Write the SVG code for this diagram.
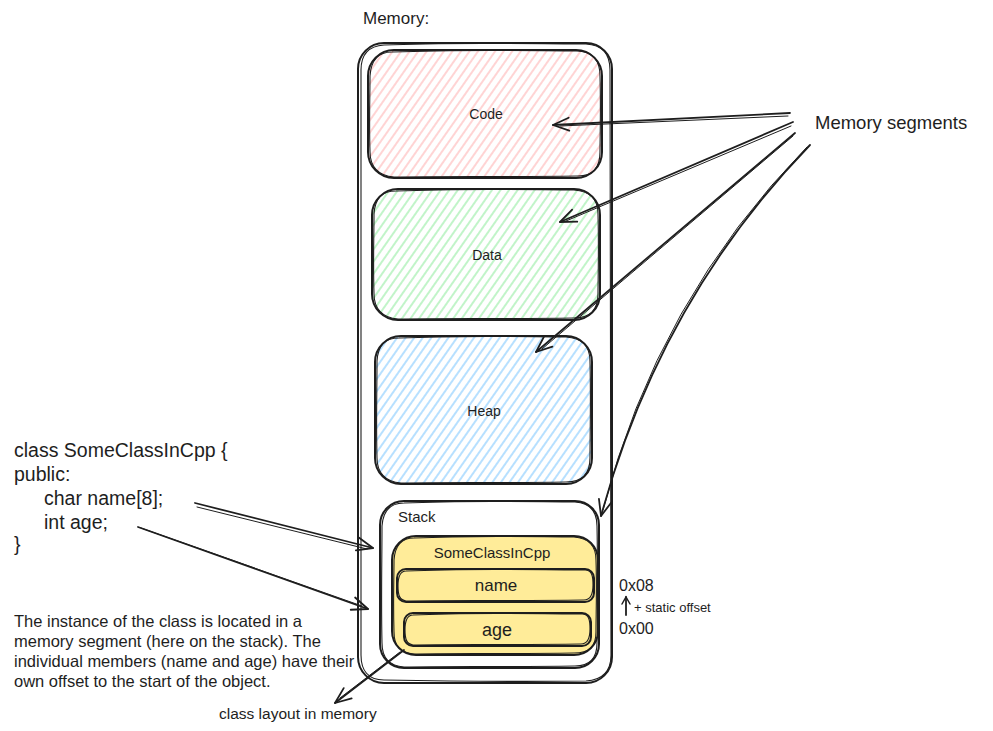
<svg xmlns="http://www.w3.org/2000/svg" width="993" height="731" viewBox="0 0 993 731">
<style>
.t{font-family:"Liberation Sans","DejaVu Sans",sans-serif;fill:#1e1e1e}
.box{stroke:#1e1e1e;stroke-width:2;stroke-linejoin:round}
.sk{fill:none;stroke:#1e1e1e;stroke-width:1.1}
.conn{fill:none;stroke:#1e1e1e;stroke-width:1.8;stroke-linecap:round}
.conn2{fill:none;stroke:#1e1e1e;stroke-width:1;stroke-linecap:round}
</style>
<defs>
<pattern id="hRed" width="7" height="7" patternUnits="userSpaceOnUse" patternTransform="rotate(35)"><line x1="1" y1="0" x2="1" y2="7" stroke="#ffc9c9" stroke-width="1.6"/></pattern>
<pattern id="hGreen" width="7" height="7" patternUnits="userSpaceOnUse" patternTransform="rotate(35)"><line x1="1" y1="0" x2="1" y2="7" stroke="#b2f2bb" stroke-width="1.6"/></pattern>
<pattern id="hBlue" width="7" height="7" patternUnits="userSpaceOnUse" patternTransform="rotate(35)"><line x1="1" y1="0" x2="1" y2="7" stroke="#a5d8ff" stroke-width="1.6"/></pattern>
<marker id="ah" viewBox="-18 -9 20 18" refX="0" refY="0" markerWidth="20" markerHeight="18" markerUnits="userSpaceOnUse" orient="auto">
<path d="M-16,-6.5 L0,0 L-16,6.5" fill="none" stroke="#1e1e1e" stroke-width="1.8" stroke-linecap="round" stroke-linejoin="round"/>
</marker>
<marker id="ahs" viewBox="-10 -6 12 12" refX="0" refY="0" markerWidth="12" markerHeight="12" markerUnits="userSpaceOnUse" orient="auto">
<path d="M-7,-4 L0,0 L-7,4" fill="none" stroke="#1e1e1e" stroke-width="1.5" stroke-linecap="round"/>
</marker>
</defs>
<rect width="993" height="731" fill="#ffffff"/>

<g id="memory-label"><text class="t" x="363" y="24" font-size="17">Memory:</text></g>

<g id="memory">
<rect class="box" x="358" y="43" width="254" height="640" rx="26" fill="none"/>
<path class="sk" d="M384,45 C450,42 540,44 586,44 C603,45 610,55 610,70 C611,250 610,480 611,655 C611,672 602,680 586,681 C500,682 440,681 384,680 C368,680 361,670 361,655 C360,450 361,250 361,70 C361,55 368,46 384,45"/>
</g>

<g id="code">
<rect x="368" y="50" width="234" height="128" rx="26" fill="url(#hRed)"/>
<rect class="box" x="368" y="50" width="234" height="128" rx="26" fill="none"/>
<path class="sk" d="M392,52 C470,49 540,51 578,51 C594,52 600,62 600,76 C601,110 600,140 600,152 C600,168 592,176 578,176 C500,177 440,176 394,177 C378,176 370,166 370,152 C369,120 370,95 370,76 C371,60 378,52 392,52"/>
<text class="t" x="486" y="119" font-size="14" text-anchor="middle">Code</text>
</g>

<g id="data">
<rect x="372" y="189" width="228" height="131" rx="26" fill="url(#hGreen)"/>
<rect class="box" x="372" y="189" width="228" height="131" rx="26" fill="none"/>
<path class="sk" d="M396,191 C470,188 540,190 574,190 C590,191 598,200 598,214 C599,250 598,280 598,294 C598,310 590,318 574,318 C500,319 440,318 398,319 C382,318 374,308 374,294 C373,260 374,235 374,214 C375,198 382,191 396,191"/>
<text class="t" x="487" y="260" font-size="14" text-anchor="middle">Data</text>
</g>

<g id="heap">
<rect x="375" y="336" width="217" height="148" rx="26" fill="url(#hBlue)"/>
<rect class="box" x="375" y="336" width="217" height="148" rx="26" fill="none"/>
<path class="sk" d="M399,338 C470,335 530,337 566,337 C582,338 590,347 590,361 C591,400 590,440 590,458 C590,474 582,482 566,482 C500,483 440,482 401,483 C385,482 377,472 377,458 C376,420 377,390 377,361 C378,345 385,338 399,338"/>
<text class="t" x="484" y="416" font-size="14" text-anchor="middle">Heap</text>
</g>

<g id="stack">
<rect class="box" x="380" y="501" width="219" height="167" rx="24" fill="#ffffff"/>
<path class="sk" d="M404,503 C470,500 540,502 575,502 C590,503 597,512 597,526 C598,570 597,620 597,643 C597,658 590,666 575,666 C500,667 440,666 404,667 C389,666 382,657 382,643 C381,600 382,560 382,526 C383,511 390,503 404,503"/>
<text class="t" x="398" y="522" font-size="15">Stack</text>
</g>

<g id="someclass">
<rect class="box" x="392" y="536" width="206" height="119" rx="24" fill="#ffec99"/>
<path class="sk" d="M414,538 C480,535 540,537 574,537 C589,538 596,547 596,560 C597,590 596,615 596,632 C596,647 589,653 574,653 C500,654 440,653 414,654 C400,653 394,646 394,632 C393,600 394,580 394,560 C395,546 401,538 414,538"/>
<text class="t" x="492" y="558" font-size="15" text-anchor="middle">SomeClassInCpp</text>
</g>

<g id="name">
<rect class="box" x="397" y="569" width="197" height="33" rx="9" fill="#ffec99"/>
<path class="sk" d="M406,571 C470,568 540,570 586,570 C592,571 593,576 593,585 C593,594 590,600 584,600 C500,601 440,600 406,601 C400,600 398,596 398,586 C398,576 400,571 406,571"/>
<text class="t" x="496" y="591" font-size="17" text-anchor="middle">name</text>
</g>

<g id="age">
<rect class="box" x="404" y="613" width="187" height="33" rx="9" fill="#ffec99"/>
<path class="sk" d="M413,615 C470,612 540,614 583,614 C589,615 590,620 590,629 C590,638 587,644 581,644 C500,645 440,644 413,645 C407,644 405,640 405,630 C405,620 407,615 413,615"/>
<text class="t" x="497" y="636" font-size="18" text-anchor="middle">age</text>
</g>

<g id="offsets">
<text class="t" x="619" y="591" font-size="16">0x08</text>
<text class="t" x="634" y="612" font-size="13">+ static offset</text>
<text class="t" x="619" y="634" font-size="16">0x00</text>
</g>

<g id="memory-segments-label"><text class="t" x="815" y="129" font-size="18.5">Memory segments</text></g>

<g id="class-code">
<text class="t" font-size="19.5"><tspan x="14" y="457">class SomeClassInCpp {</tspan><tspan x="14" y="481">public:</tspan><tspan x="44" y="505">char name[8];</tspan><tspan x="44" y="529">int age;</tspan><tspan x="14" y="551">}</tspan></text>
</g>

<g id="description">
<text class="t" font-size="16.5"><tspan x="14" y="627">The instance of the class is located in a</tspan><tspan x="14" y="647">memory segment (here on the stack). The</tspan><tspan x="14" y="667">individual members (name and age) have their</tspan><tspan x="14" y="687">own offset to the start of the object.</tspan></text>
</g>

<g id="layout-label"><text class="t" x="219" y="719" font-size="15.5">class layout in memory</text></g>

<g id="connectors">
<path class="conn" d="M790,113 L553,125" marker-end="url(#ah)"/>
<path class="conn2" d="M788,116 L560,126"/>
<path class="conn" d="M793,122 L560,222" marker-end="url(#ah)"/>
<path class="conn2" d="M791,126 L566,221"/>
<path class="conn" d="M795,133 L536,352" marker-end="url(#ah)"/>
<path class="conn2" d="M793,136 L542,349"/>
<path class="conn" d="M810,145 Q660,300 601,516" marker-end="url(#ah)"/>
<path class="conn2" d="M807,147 Q657,300 603,510"/>
<path class="conn" d="M195,503 L373,548" marker-end="url(#ah)"/>
<path class="conn2" d="M197,507 L367,549"/>
<path class="conn" d="M138,527 L368,609" marker-end="url(#ah)"/>
<path class="conn2" d="M141,528 L362,606"/>
<path class="conn" d="M404,650 L335,703" marker-end="url(#ah)"/>
<path class="conn2" d="M400,652 L340,698"/>
<path class="conn" d="M626,615 L626,597" marker-end="url(#ahs)"/>
</g>
</svg>
